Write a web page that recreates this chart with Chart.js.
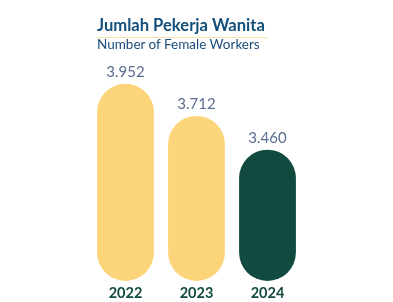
<!DOCTYPE html>
<html>
<head>
<meta charset="utf-8">
<script src="https://cdn.jsdelivr.net/npm/chart.js@4"></script>
<style>
  html, body { margin: 0; padding: 0; background: #fff; }
  #wrap { position: relative; width: 393px; height: 302px; }
  #title { position: absolute; left: 97px; top: 15px; font: bold 16.6px "Lato", sans-serif; color: #134f7c; }
  #rule { position: absolute; left: 97px; top: 37px; width: 171px; height: 1px; background: #f8e2b0; }
  #sub { position: absolute; left: 97px; top: 36px; font: 13.5px "Lato", sans-serif; color: #1b4d78; }
</style>
</head>
<body>
<div id="wrap">
  <canvas id="c" width="393" height="302"></canvas>
  <div id="title">Jumlah Pekerja Wanita</div>
  <div id="rule"></div>
  <div id="sub">Number of Female Workers</div>
</div>
<script>
const years = ["2022", "2023", "2024"];
const workers = [3952, 3712, 3460];
const valueLabels = ["3.952", "3.712", "3.460"];
const barColors = ["#fcd47a", "#fcd47a", "#114a3e"];
const yMin = 2480;
const yMax = 4129;

// value text above each bar
const topLabels = {
  id: "topLabels",
  afterDatasetsDraw(chart) {
    const ctx = chart.ctx;
    const meta = chart.getDatasetMeta(0);
    ctx.save();
    ctx.font = "15px 'Lato', sans-serif";
    ctx.fillStyle = "#5b6d90";
    ctx.textAlign = "center";
    ctx.textBaseline = "bottom";
    meta.data.forEach((bar, i) => {
      ctx.fillText(valueLabels[i], bar.x, bar.y - 4);
    });
    ctx.restore();
  }
};

new Chart(document.getElementById("c"), {
  type: "bar",
  data: {
    labels: years,
    datasets: [{
      data: workers,
      base: yMin,
      backgroundColor: barColors,
      borderRadius: 29,
      borderSkipped: false,
      barPercentage: 0.8,
      categoryPercentage: 1
    }]
  },
  options: {
    responsive: false,
    animation: false,
    layout: { padding: { left: 90, right: 90, top: 60, bottom: 0 } },
    scales: {
      x: {
        grid: { display: false, drawTicks: false },
        border: { display: false },
        afterFit(scale) { scale.height = 21; },
        ticks: {
          padding: 4,
          color: "#124a3e",
          font: { family: "Lato", size: 14.5, weight: "bold" }
        }
      },
      y: {
        display: false,
        min: yMin,
        max: yMax
      }
    },
    plugins: {
      legend: { display: false },
      tooltip: { enabled: false }
    }
  },
  plugins: [topLabels]
});
</script>
</body>
</html>
